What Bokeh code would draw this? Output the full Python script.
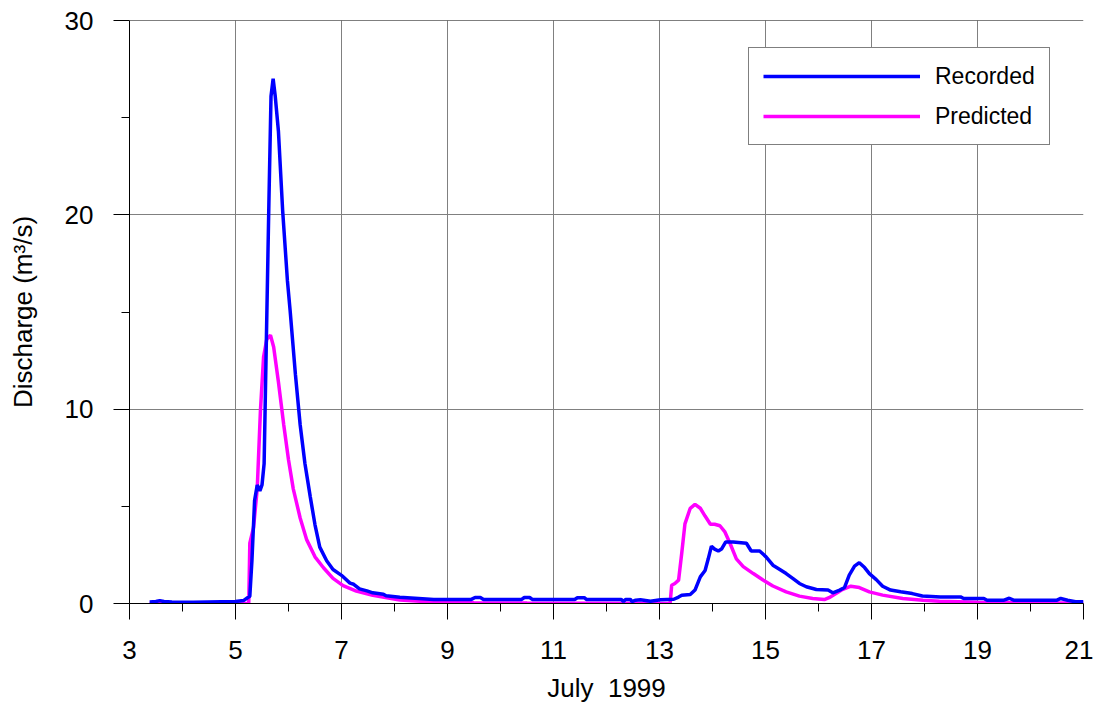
from bokeh.plotting import figure
from bokeh.models import FixedTicker, Legend, LegendItem, Span, Range1d
from bokeh.embed import file_html
from bokeh.resources import INLINE

# ---- data ----
rec_day = [3.38, 3.50, 3.57, 3.65, 3.80, 4.20, 5.00, 5.15, 5.22, 5.27, 5.31, 5.36, 5.41, 5.46, 5.50,
           5.54, 5.58, 5.63, 5.67, 5.71, 5.75, 5.81, 5.89, 5.98, 6.03, 6.13, 6.22, 6.31, 6.41, 6.50,
           6.59, 6.72, 6.84, 7.00, 7.16, 7.23, 7.34, 7.48, 7.59, 7.79, 7.84, 8.10, 8.74, 9.45, 9.52,
           9.62, 9.68, 10.40, 10.45, 10.55, 10.60, 11.40, 11.45, 11.58, 11.62, 12.28, 12.32, 12.36,
           12.45, 12.48, 12.55, 12.64, 12.83, 13.02, 13.27, 13.36, 13.42, 13.58, 13.67, 13.77, 13.86,
           13.92, 13.98, 14.04, 14.11, 14.17, 14.25, 14.39, 14.64, 14.73, 14.89, 15.01, 15.14, 15.27,
           15.39, 15.52, 15.64, 15.77, 15.96, 16.18, 16.27, 16.40, 16.49, 16.58, 16.68, 16.77, 16.87,
           16.96, 17.09, 17.21, 17.36, 17.55, 17.77, 17.96, 18.30, 18.68, 18.74, 19.12, 19.18, 19.50,
           19.60, 19.68, 20.50, 20.57, 20.70, 20.85, 21.00]
rec_q = [0.08, 0.10, 0.15, 0.10, 0.08, 0.07, 0.10, 0.15, 0.28, 0.37, 2.2, 5.3, 6.1, 5.8, 6.1,
         7.2, 13.2, 20.6, 26.1, 27.0, 26.1, 24.3, 20.2, 16.6, 15.1, 11.8, 9.2, 7.2, 5.5, 4.05,
         2.9, 2.2, 1.75, 1.45, 1.05, 0.99, 0.75, 0.65, 0.55, 0.48, 0.40, 0.32, 0.21, 0.21, 0.31,
         0.31, 0.21, 0.21, 0.31, 0.31, 0.21, 0.21, 0.30, 0.30, 0.21, 0.21, 0.10, 0.21,
         0.21, 0.10, 0.17, 0.19, 0.12, 0.19, 0.22, 0.33, 0.42, 0.46, 0.69, 1.37, 1.7,
         2.3, 2.95, 2.8, 2.7, 2.8, 3.17, 3.17, 3.1, 2.7, 2.7, 2.4, 1.97, 1.75,
         1.54, 1.28, 1.03, 0.86, 0.72, 0.69, 0.55, 0.69, 0.82, 1.46, 1.92, 2.1, 1.85,
         1.54, 1.23, 0.89, 0.69, 0.60, 0.51, 0.39, 0.34, 0.34, 0.26, 0.26, 0.17, 0.17,
         0.27, 0.17, 0.17, 0.26, 0.17, 0.09, 0.09]

pred_day = [3.38, 5.25, 5.27, 5.34, 5.41, 5.47, 5.53, 5.59, 5.66, 5.72, 5.81, 5.91, 6.00, 6.09,
            6.22, 6.34, 6.50, 6.66, 6.84, 7.03, 7.28, 7.59, 8.10, 8.70, 9.50, 10.50, 13.20,
            13.23, 13.29, 13.36, 13.42, 13.48, 13.58, 13.67, 13.77, 13.86, 13.96, 14.04, 14.14,
            14.23, 14.33, 14.45, 14.58, 14.77, 14.96, 15.14, 15.39, 15.64, 15.89, 16.11, 16.20,
            16.33, 16.45, 16.61, 16.77, 16.96, 17.21, 17.59, 17.97, 18.28, 19.00, 20.00, 21.00]
pred_q = [0.0, 0.0, 3.1, 3.9, 5.9, 9.9, 12.7, 13.6, 13.8, 13.2, 11.4, 9.2, 7.4, 5.9,
          4.4, 3.3, 2.4, 1.84, 1.29, 0.92, 0.64, 0.42, 0.18, 0.08, 0.04, 0.02, 0.0,
          0.94, 1.03, 1.2, 2.6, 4.1, 4.9, 5.1, 4.9, 4.5, 4.08, 4.08, 4.0,
          3.7, 3.1, 2.3, 1.9, 1.54, 1.2, 0.9, 0.6, 0.38, 0.26, 0.2, 0.3,
          0.51, 0.72, 0.89, 0.82, 0.6, 0.43, 0.26, 0.17, 0.12, 0.06, 0.03, 0.02]

x_ticks = [3, 5, 7, 9, 11, 13, 15, 17, 19, 21]
x_minor = [4, 6, 8, 10, 12, 14, 16, 18, 20]
y_ticks = [0, 10, 20, 30]
y_minor = [5, 15, 25]

FONT = "Liberation Sans"

p = figure(frame_width=954, frame_height=583, min_border_left=129, min_border_right=10,
           min_border_top=20, min_border_bottom=97,
           x_range=Range1d(3, 21), y_range=Range1d(0, 30),
           output_backend="svg", toolbar_location=None)
p.outline_line_color = None
p.background_fill_color = "white"
p.border_fill_color = "white"

for ax in (p.xaxis[0], p.yaxis[0]):
    ax.axis_line_color = "black"
    ax.major_tick_line_color = "black"
    ax.minor_tick_line_color = "black"
    ax.major_tick_in = 0
    ax.major_tick_out = 16
    ax.minor_tick_in = 0
    ax.minor_tick_out = 8
    ax.major_label_text_font = FONT
    ax.major_label_text_font_size = "26px"
    ax.major_label_text_color = "black"
    ax.axis_label_text_font = FONT
    ax.axis_label_text_font_size = "26px"
    ax.axis_label_text_font_style = "normal"
    ax.axis_label_text_color = "black"

p.xaxis.ticker = FixedTicker(ticks=x_ticks, minor_ticks=x_minor)
p.yaxis.ticker = FixedTicker(ticks=y_ticks, minor_ticks=y_minor)
p.xaxis.major_label_standoff = 21
p.yaxis.major_label_standoff = 20
p.xaxis.axis_label = "July\u00a0\u00a01999"
p.yaxis.axis_label = "Discharge (m³/s)"
p.xaxis.axis_label_standoff = 11
p.yaxis.axis_label_standoff = 24

p.xgrid.ticker = FixedTicker(ticks=x_ticks)
p.ygrid.ticker = FixedTicker(ticks=y_ticks)
p.xgrid.grid_line_color = "#808080"
p.ygrid.grid_line_color = "#808080"
p.xgrid.grid_line_width = 1
p.ygrid.grid_line_width = 1

p.add_layout(Span(location=30, dimension="width", line_color="black", line_width=1))

r_pred = p.line(pred_day, pred_q, line_color="#ff00ff", line_width=3.5)
r_rec = p.line(rec_day, rec_q, line_color="#0000ff", line_width=3.5)

legend = Legend(items=[LegendItem(label="Recorded", renderers=[r_rec]),
                       LegendItem(label="Predicted", renderers=[r_pred])],
                location=(619, 458))
legend.label_text_font = FONT
legend.label_text_font_size = "23px"
legend.label_text_color = "black"
legend.glyph_width = 157
legend.glyph_height = 28
legend.label_height = 28
legend.label_standoff = 15
legend.padding = 14
legend.spacing = 12
legend.margin = 0
legend.border_line_color = "black"
legend.border_line_width = 1
legend.background_fill_color = "white"
legend.background_fill_alpha = 1
p.add_layout(legend)

open("out.html", "w").write(file_html(p, INLINE))
